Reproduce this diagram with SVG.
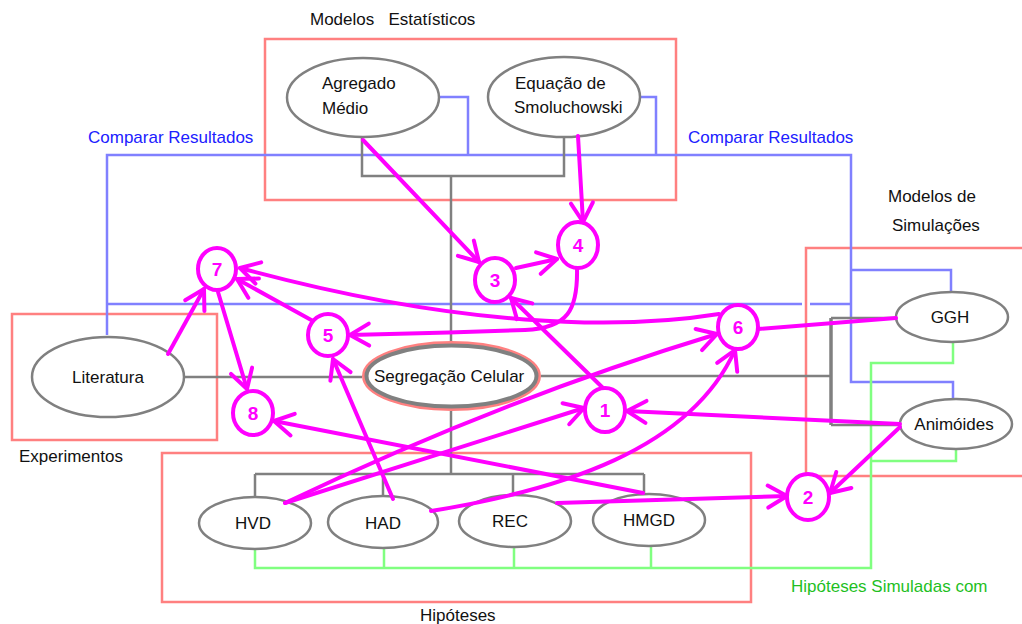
<svg xmlns="http://www.w3.org/2000/svg" width="1022" height="624" viewBox="0 0 1022 624">
<style>
.box{fill:none;stroke:#ff8080;stroke-width:2.5}
.g{fill:none;stroke:#808080;stroke-width:2.5}
.b{fill:none;stroke:#8080ff;stroke-width:2.5}
.gr{fill:none;stroke:#80ff80;stroke-width:2.5}
.el{fill:#fff;stroke:#808080;stroke-width:2.5}
.t{font-family:"Liberation Sans",Arial,sans-serif;font-size:17px;fill:#111}
.tc{text-anchor:middle}
.blue{fill:#2020ff}
.green{fill:#1fbf1f}
.m{fill:none;stroke:#ff00ff;stroke-width:4;stroke-linecap:round}
.c{fill:#fff;stroke:#ff00ff;stroke-width:4}
.n{font-family:"Liberation Sans",Arial,sans-serif;font-size:19px;font-weight:bold;fill:#ff00ff;text-anchor:middle}
</style>
<defs>
<marker id="ah" markerUnits="userSpaceOnUse" orient="auto" markerWidth="1" markerHeight="1" refX="0" refY="0" style="overflow:visible">
<path d="M-19,-11 L0,0 L-19,11" fill="none" stroke="#ff00ff" stroke-width="4" stroke-linecap="round" stroke-linejoin="round"/>
</marker>
</defs>
<rect width="1022" height="624" fill="#fff"/>
<g id="groups">
<rect class="box" x="265" y="39" width="411" height="161"/>
<rect class="box" x="12" y="314" width="205" height="126"/>
<rect class="box" x="162" y="453" width="589" height="149"/>
<rect class="box" x="806" y="248" width="240" height="228"/>
<text class="t" x="310" y="25" xml:space="preserve">Modelos   Estatísticos</text>
<text class="t blue" x="88" y="143">Comparar Resultados</text>
<text class="t blue" x="688" y="143">Comparar Resultados</text>
<text class="t" x="888" y="202">Modelos de</text>
<text class="t" x="892" y="231">Simulações</text>
<text class="t" x="19" y="462">Experimentos</text>
<text class="t" x="420" y="621">Hipóteses</text>
<text class="t green" x="791" y="592">Hipóteses Simuladas com</text>
</g>
<g id="connectors">
<path class="b" d="M439,97 H468 V155"/>
<path class="b" d="M640,97 H656 V155"/>
<path class="b" d="M107,335 V155 H851 V382 H953 V399"/>
<path class="b" d="M107,304 H802 M810,304 H851"/>
<path class="b" d="M851,270 H951 V292"/>
<path class="gr" d="M255,549 V568 H871 V363 H953 V342"/>
<path class="gr" d="M384,548 V568 M514,547 V568 M651,546 V568"/>
<path class="gr" d="M871,461 H956 V449"/>
<path class="g" d="M362,137 V176 H564 V137"/>
<path class="g" d="M451,176 V341"/>
<path class="g" d="M184,377 H362"/>
<path class="g" d="M541,376 H831"/>
<path class="g" d="M831,318 V425" style="stroke-width:3.5"/>
<path class="g" d="M831,318 H896 M831,425 H900"/>
<path class="g" d="M451,411 V474"/>
<path class="g" d="M255,474 H644 M255,474 V497 M383,474 V496 M513,474 V495 M644,474 V494"/>
</g>
<g id="n-agregado"><ellipse class="el" cx="363" cy="97.5" rx="76" ry="39.5"/><text class="t" x="322" y="89">Agregado</text><text class="t" x="322" y="113.5">Médio</text></g>
<g id="n-smol"><ellipse class="el" cx="564" cy="97" rx="76" ry="40"/><text class="t" x="515" y="89">Equação de</text><text class="t" x="514" y="113">Smoluchowski</text></g>
<g id="n-literatura"><ellipse class="el" cx="108" cy="377" rx="76" ry="40"/><text class="t tc" x="108" y="383">Literatura</text></g>
<g id="n-segregacao"><ellipse cx="451.5" cy="376" rx="87" ry="32.5" fill="#fff" stroke="#ff8080" stroke-width="5"/><ellipse cx="451.5" cy="376" rx="85" ry="30.5" fill="#fff" stroke="#808080" stroke-width="4"/><text class="t" x="374" y="381.5">Segregação Celular</text></g>
<g id="n-ggh"><ellipse class="el" cx="952" cy="317" rx="56" ry="25"/><text class="t tc" x="950" y="323">GGH</text></g>
<g id="n-animoides"><ellipse class="el" cx="956" cy="424" rx="56" ry="25"/><text class="t tc" x="954" y="429.5">Animóides</text></g>
<g id="n-hvd"><ellipse class="el" cx="255" cy="523" rx="56" ry="26"/><text class="t tc" x="253" y="529">HVD</text></g>
<g id="n-had"><ellipse class="el" cx="383" cy="522" rx="55" ry="26"/><text class="t tc" x="383" y="529">HAD</text></g>
<g id="n-rec"><ellipse class="el" cx="515" cy="521" rx="56" ry="26"/><text class="t tc" x="510" y="527">REC</text></g>
<g id="n-hmgd"><ellipse class="el" cx="649" cy="520" rx="56" ry="26"/><text class="t tc" x="649" y="526">HMGD</text></g>
<g id="arrows">
<path class="m" d="M363,140 L479,262" marker-end="url(#ah)"/>
<path class="m" d="M578,136 L583,222" marker-end="url(#ah)"/>
<path class="m" d="M516,268 L557,259" marker-end="url(#ah)"/>
<path class="m" d="M577,268 C578,310 568,328 525,330 C470,332 400,334 350,335" marker-end="url(#ah)"/>
<path class="m" d="M719,314 C620,330 460,328 240,268" marker-end="url(#ah)"/>
<path class="m" d="M313,321 L237,279" marker-end="url(#ah)"/>
<path class="m" d="M168,354 L204,289" marker-end="url(#ah)"/>
<path class="m" d="M218,292 L247,389" marker-end="url(#ah)"/>
<path class="m" d="M643,493 L274,421" marker-end="url(#ah)"/>
<path class="m" d="M393,499 L333,359" marker-end="url(#ah)"/>
<path class="m" d="M285,503 Q500,400 717,334" marker-end="url(#ah)"/>
<path class="m" d="M285,503 L584,408" marker-end="url(#ah)"/>
<path class="m" d="M431,511 C560,490 690,450 735,350" marker-end="url(#ah)"/>
<path class="m" d="M900,424 L627,411" marker-end="url(#ah)"/>
<path class="m" d="M900,427 L830,493" marker-end="url(#ah)"/>
<path class="m" d="M557,503 L787,496" marker-end="url(#ah)"/>
<path class="m" d="M758,329 L896,318"/>
<path class="m" d="M603,388 L511,298" marker-end="url(#ah)"/>
</g>
<g id="c1"><ellipse class="c" cx="605" cy="410" rx="20" ry="22"/><text class="n" x="605" y="417">1</text></g>
<g id="c2"><ellipse class="c" cx="808" cy="497" rx="21" ry="23"/><text class="n" x="808" y="504">2</text></g>
<g id="c3"><ellipse class="c" cx="495" cy="280" rx="20" ry="22"/><text class="n" x="495" y="287">3</text></g>
<g id="c4"><ellipse class="c" cx="578" cy="245" rx="20" ry="23"/><text class="n" x="578" y="252">4</text></g>
<g id="c5"><ellipse class="c" cx="328" cy="335" rx="20" ry="21"/><text class="n" x="328" y="342">5</text></g>
<g id="c6"><ellipse class="c" cx="738" cy="327" rx="20" ry="22"/><text class="n" x="738" y="334">6</text></g>
<g id="c7"><ellipse class="c" cx="217" cy="269" rx="19" ry="21"/><text class="n" x="217" y="276">7</text></g>
<g id="c8"><ellipse class="c" cx="253" cy="413" rx="20" ry="22"/><text class="n" x="253" y="420">8</text></g>
</svg>
